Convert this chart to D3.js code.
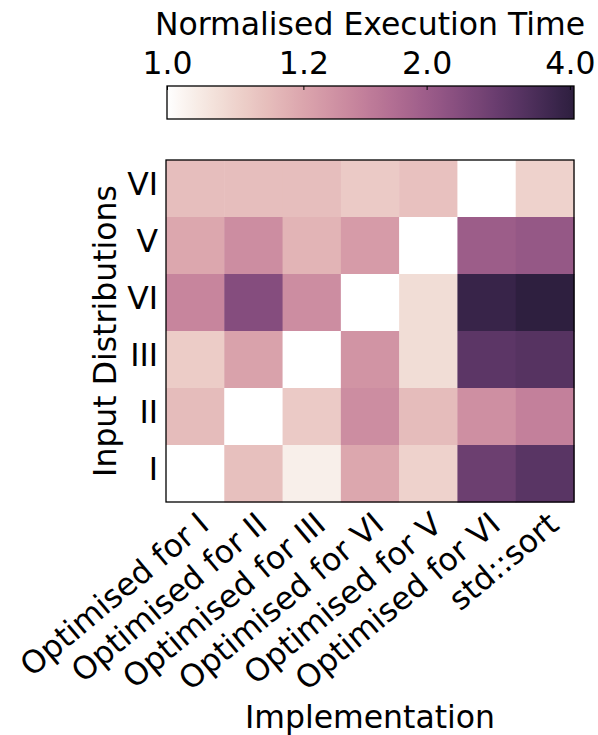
<!DOCTYPE html>
<html>
<head>
<meta charset="utf-8">
<script src="https://cdn.jsdelivr.net/npm/d3@7"></script>
<style>
  html, body { margin: 0; padding: 0; background: #fff; }
  svg { display: block; font-family: "DejaVu Sans", sans-serif; }
</style>
</head>
<body>
<svg id="chart" width="598" height="735"></svg>
<script>
// Implementations (columns) and input distributions (rows, top to bottom)
const implementations = ["Optimised for I", "Optimised for II", "Optimised for III",
  "Optimised for VI", "Optimised for V", "Optimised for VI", "std::sort"];
const distributions = ["VI", "V", "VI", "III", "II", "I"];

// Normalised execution time, one array per input distribution row
const rowVI_a = [1.09, 1.09, 1.09, 1.055, 1.08, 1.00, 1.037];
const rowV    = [1.19, 1.37, 1.13, 1.26, 1.00, 2.00, 2.10];
const rowVI_b = [1.44, 2.35, 1.37, 1.00, 1.02, 3.80, 4.05];
const rowIII  = [1.05, 1.22, 1.00, 1.31, 1.02, 3.05, 3.17];
const rowII   = [1.10, 1.00, 1.055, 1.37, 1.10, 1.35, 1.49];
const rowI    = [1.00, 1.085, 1.003, 1.19, 1.037, 2.76, 3.10];
const matrix = [rowVI_a, rowV, rowVI_b, rowIII, rowII, rowI];

// Colour bar ticks
const colorbarTicks = [1.0, 1.2, 2.0, 4.0];

const vmin = 1.0, vmax = 4.077, gamma = 0.4;

// Cubehelix colour map (start 0, rotation 0.4, hue 0.8), light 1 -> dark 0.15
function cubehelix(t) {
  const light = 1.0, dark = 0.15, start = 0, rot = 0.4, hue = 0.8;
  const x = light + (dark - light) * t;
  const a = hue * x * (1 - x) / 2;
  const phi = 2 * Math.PI * (start / 3 + rot * x);
  const c = Math.cos(phi), s = Math.sin(phi);
  const r = x + a * (-0.14861 * c + 1.78277 * s);
  const g = x + a * (-0.29227 * c - 0.90649 * s);
  const b = x + a * (1.97294 * c);
  const f = v => Math.round(255 * Math.max(0, Math.min(1, v)));
  return d3.rgb(f(r), f(g), f(b)).formatHex();
}

// Power-law normalisation of the values
const norm = d3.scalePow().exponent(gamma).domain([0, vmax - vmin]).range([0, 1]).clamp(true);
const color = v => cubehelix(norm(v - vmin));

const svg = d3.select("#chart");
svg.append("rect").attr("width", 598).attr("height", 735).attr("fill", "#fff");

const fontSize = 31.5;

// ---- Heatmap ----
const x = d3.scaleBand().domain(d3.range(implementations.length)).range([166, 574]);
const y = d3.scaleBand().domain(d3.range(distributions.length)).range([160, 502]);

const cells = [];
matrix.forEach((row, ri) => row.forEach((v, ci) => cells.push({ri, ci, v})));

svg.append("g").selectAll("rect").data(cells).join("rect")
  .attr("x", d => x(d.ci))
  .attr("y", d => y(d.ri))
  .attr("width", x.bandwidth() + 0.5)
  .attr("height", y.bandwidth() + 0.5)
  .attr("fill", d => color(d.v));

svg.append("rect")
  .attr("x", 166).attr("y", 160).attr("width", 408).attr("height", 342)
  .attr("fill", "none").attr("stroke", "#000").attr("stroke-width", 1.3);

// Row labels
const yAxis = svg.append("g").attr("transform", "translate(166,0)")
  .call(d3.axisLeft(y).tickSize(0).tickPadding(8).tickFormat(i => distributions[i]));
yAxis.select(".domain").remove();
yAxis.selectAll("text")
  .attr("dy", "0.22em")
  .attr("font-size", fontSize).attr("font-family", "DejaVu Sans").attr("fill", "#000");

// Column labels, rotated 40 degrees, ending at each column centre
svg.append("g").selectAll("text").data(implementations).join("text")
  .attr("transform", (d, i) => `translate(${x(i) + x.bandwidth() / 2 + 1},${510}) rotate(-40)`)
  .attr("text-anchor", "end")
  .attr("dy", "0.73em")
  .attr("font-size", fontSize)
  .attr("fill", "#000")
  .text(d => d);

// Axis titles
svg.append("text")
  .attr("x", 370).attr("y", 728)
  .attr("text-anchor", "middle").attr("font-size", fontSize)
  .text("Implementation");

svg.append("text")
  .attr("transform", "translate(116,331) rotate(-90)")
  .attr("text-anchor", "middle").attr("font-size", fontSize)
  .text("Input Distributions");

// ---- Colour bar ----
const cbX0 = 167, cbX1 = 574, cbY = 86, cbH = 33;
const defs = svg.append("defs");
const grad = defs.append("linearGradient").attr("id", "cbgrad")
  .attr("x1", "0%").attr("x2", "100%").attr("y1", "0%").attr("y2", "0%");
d3.range(0, 1.0001, 1 / 64).forEach(t => {
  grad.append("stop").attr("offset", `${t * 100}%`).attr("stop-color", cubehelix(t));
});
svg.append("rect")
  .attr("x", cbX0).attr("y", cbY).attr("width", cbX1 - cbX0).attr("height", cbH)
  .attr("fill", "url(#cbgrad)")
  .attr("stroke", "#000").attr("stroke-width", 1.3);

const cbScale = d3.scalePow().exponent(gamma).domain([0, vmax - vmin]).range([cbX0, cbX1]);
const cbAxis = svg.append("g").attr("transform", `translate(0,${cbY})`)
  .call(d3.axisTop(cbScale)
    .tickValues(colorbarTicks.map(v => v - vmin))
    .tickSizeInner(-4).tickSizeOuter(0).tickPadding(12)
    .tickFormat(d => (d + vmin).toFixed(1)));
cbAxis.select(".domain").remove();
cbAxis.selectAll("line").attr("stroke", "#000").attr("stroke-width", 1);
cbAxis.selectAll("text").attr("font-size", fontSize).attr("font-family", "DejaVu Sans").attr("fill", "#000");

svg.append("text")
  .attr("x", 370).attr("y", 35)
  .attr("text-anchor", "middle").attr("font-size", fontSize)
  .text("Normalised Execution Time");
</script>
</body>
</html>
